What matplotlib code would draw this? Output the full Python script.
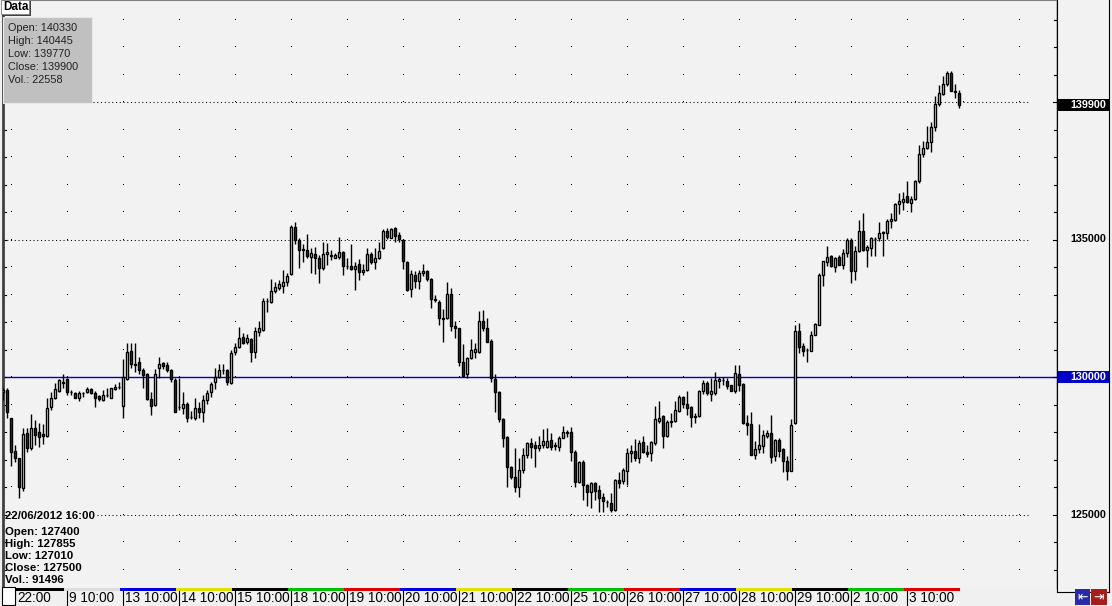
import matplotlib.pyplot as plt
from matplotlib.patches import Rectangle
import numpy as np

plt.rcParams['font.family'] = ['Liberation Sans', 'DejaVu Sans']

# 30-minute candles
opens = [129450, 129520, 128500, 127310, 127040, 125980, 127950, 127410, 128130, 127990,
         127920, 127870, 128920, 129250, 129490, 129800, 129930, 129470, 129410, 129250,
         129410, 129470, 129560, 129410, 129310, 129160, 129340, 129250, 129560, 129640,
         128960, 129930, 130950, 130460, 130530, 130250, 130100, 129200, 128980, 130320,
         130500, 130440, 130250, 129890, 128920, 128880, 129010, 128560, 128520, 128880,
         128720, 129160, 129440, 129810, 130010, 130260, 130250, 129770, 130900, 131090,
         131440, 131260, 131370, 130920, 131650, 131710, 132760, 132740, 133130, 133220,
         133320, 133440, 133730, 135470, 134980, 134640, 134620, 134380, 134460, 134310,
         133980, 134460, 134410, 134340, 134380, 134530, 134050, 134050, 133910, 134100,
         133810, 133890, 134460, 134170, 134340, 134680, 135310, 135070, 135410, 135160,
         134980, 134190, 133200, 133710, 133490, 133770, 133850, 133560, 132840, 132710,
         132130, 132130, 133010, 131870, 131770, 130530, 130100, 130680, 130920, 130920,
         132040, 131790, 131310, 129930, 129440, 128470, 127820, 126740, 126380, 126010,
         126620, 127160, 127590, 127510, 127410, 127530, 127470, 127710, 127510, 127470,
         127790, 127990, 127990, 127290, 126190, 126920, 126070, 125830, 126130, 125890,
         125650, 125470, 125410, 125170, 126250, 126220, 126580, 127220, 127310, 127070,
         127630, 127260, 127240, 127590, 128410, 128570, 127840, 128390, 128390, 128750,
         129260, 129020, 128900, 128570, 128570, 129500, 129780, 129380, 129420, 129870,
         129900, 129870, 129700, 129500, 130110, 129750, 128330, 128290, 127150, 127390,
         127480, 127840, 127960, 127110, 127720, 127390, 126960, 126590, 128330, 131680,
         131110, 130990, 130960, 131540, 131900, 133700, 134180, 134390, 133990, 134350,
         134080, 134510, 134990, 133840, 134570, 135320, 134630, 134690, 135030, 135050,
         135260, 135240, 135690, 135720, 136290, 136360, 136570, 136330, 136480, 137110,
         138110, 138330, 138540, 139080, 139930, 140290, 140650, 141050, 140390, 140330]
highs = [129600, 129590, 128520, 127530, 127060, 128130, 128130, 128640, 128440, 128320,
         128280, 129250, 129470, 129770, 129930, 130100, 129950, 129530, 129470, 129490,
         129470, 129650, 129610, 129490, 129350, 129530, 129590, 129610, 129730, 129830,
         130650, 131250, 131250, 131250, 130740, 130320, 130130, 129470, 130290, 130740,
         130560, 130560, 130290, 129950, 129950, 129440, 129100, 128760, 129250, 129100,
         129350, 129530, 129810, 130320, 130460, 130460, 130290, 130980, 131220, 131830,
         131590, 131560, 131410, 131830, 132040, 132860, 132880, 133560, 133470, 133530,
         133890, 133770, 135530, 135620, 135040, 134820, 135190, 134700, 134740, 134440,
         134920, 134880, 134620, 134500, 135100, 134580, 134340, 134820, 134190, 134290,
         134100, 134680, 134530, 134700, 134900, 135380, 135430, 135410, 135470, 135260,
         135020, 134220, 133890, 133850, 133890, 134100, 133890, 133590, 132980, 132800,
         132470, 133440, 133250, 132040, 131790, 131190, 130740, 131380, 131220, 132400,
         132440, 132160, 131380, 130100, 129490, 128500, 127870, 126780, 127410, 127070,
         127410, 127650, 127770, 127670, 127870, 128110, 128130, 127950, 127650, 127870,
         128230, 128070, 128190, 127350, 126950, 126980, 126100, 126190, 126190, 126070,
         125770, 125530, 125770, 126290, 126530, 126680, 127410, 127530, 127750, 127710,
         127870, 127530, 127690, 128930, 129140, 128630, 128450, 128690, 129120, 129360,
         129300, 129480, 128930, 128690, 129540, 129900, 129840, 129960, 130180, 129990,
         129990, 129960, 129720, 130420, 130450, 129780, 128630, 128730, 127660, 128290,
         128090, 128090, 128610, 127760, 127780, 127420, 127120, 128490, 131900, 131960,
         131240, 131050, 131660, 131960, 133780, 134230, 134750, 134420, 134350, 134450,
         134670, 135050, 135050, 134750, 135720, 135960, 134810, 135080, 135080, 135640,
         135300, 135760, 135960, 136330, 136690, 136730, 137110, 136570, 137180, 138450,
         138590, 139110, 139270, 140210, 140630, 140930, 141110, 141140, 140650, 140445]
lows = [129150, 128520, 126780, 126920, 125610, 125850, 127290, 127350, 127530, 127470,
        127550, 127830, 128800, 129200, 129470, 129590, 129350, 129350, 129220, 129130,
        129280, 129410, 129370, 128920, 129130, 129130, 129290, 129220, 129530, 129560,
        128520, 129890, 130320, 130190, 130100, 129590, 129160, 128620, 128960, 129950,
        130290, 130190, 129830, 128740, 128800, 128640, 128350, 128470, 128440, 128520,
        128380, 129010, 129280, 129560, 129950, 130100, 129710, 129730, 130800, 131070,
        131190, 131190, 130560, 130700, 131500, 131670, 132380, 132680, 133040, 133160,
        133040, 133320, 133710, 134820, 133950, 134190, 134310, 133770, 133730, 133410,
        133890, 134070, 134250, 134310, 134290, 133710, 133930, 133890, 133160, 133530,
        133710, 133850, 134100, 133930, 134290, 134650, 135020, 135040, 134920, 134920,
        133930, 133130, 132920, 133220, 133200, 133680, 133490, 132520, 132710, 131890,
        131280, 132110, 131670, 131410, 130410, 130050, 129950, 130650, 130680, 130860,
        131670, 131260, 129830, 128720, 128350, 127470, 126010, 126290, 125810, 125650,
        126500, 127070, 127040, 126740, 127310, 127410, 127410, 127350, 127350, 127310,
        127770, 127830, 126950, 126010, 126130, 125530, 125320, 125250, 125530, 125100,
        125100, 125280, 125100, 125130, 125980, 126100, 126070, 126920, 126950, 126860,
        127220, 127100, 126960, 127540, 128330, 127420, 127810, 128190, 128360, 128730,
        128870, 128610, 128170, 128330, 128530, 129380, 129330, 129120, 129360, 129600,
        129700, 129580, 129480, 129420, 129500, 128290, 127880, 127150, 127030, 127240,
        127240, 127780, 126870, 126930, 127080, 126550, 126270, 126570, 128290, 130870,
        130750, 130550, 130930, 131510, 131880, 133300, 134020, 133990, 133820, 134060,
        133940, 134350, 133420, 133540, 134550, 134570, 133990, 134390, 134390, 134960,
        134390, 135030, 135420, 135680, 135940, 136080, 136330, 136000, 136450, 137050,
        137990, 138290, 138200, 138930, 139840, 140240, 140600, 140390, 140140, 139770]
closes = [129520, 128720, 127290, 127070, 126010, 127920, 127410, 128130, 127890, 127830,
          127870, 128860, 129250, 129560, 129890, 129820, 129440, 129460, 129250, 129430,
          129420, 129560, 129410, 129250, 129190, 129350, 129350, 129590, 129650, 129650,
          130010, 130920, 130460, 130450, 130250, 130070, 129200, 128960, 130100, 130460,
          130410, 130250, 129930, 128740, 128910, 129010, 128520, 128550, 128880, 128720,
          129160, 129410, 129730, 130010, 130250, 130250, 129810, 130860, 131100, 131430,
          131250, 131410, 130920, 131670, 131770, 132760, 132780, 133130, 133280, 133380,
          133470, 133680, 135470, 134980, 134620, 134630, 134410, 134500, 134310, 133980,
          134460, 134530, 134430, 134440, 134530, 134050, 134040, 133930, 134050, 133810,
          133890, 134460, 134170, 134340, 134580, 135310, 135100, 135380, 135140, 135020,
          134220, 133160, 133730, 133490, 133770, 133850, 133560, 132840, 132790, 132130,
          132120, 133010, 131870, 131770, 130530, 130050, 130680, 130980, 131020, 132040,
          131770, 131280, 129980, 129440, 128470, 127790, 126740, 126380, 126010, 126620,
          127160, 127590, 127470, 127410, 127530, 127670, 127670, 127470, 127500, 127790,
          127990, 127980, 127290, 126190, 126900, 126070, 125830, 126130, 125860, 125610,
          125490, 125460, 125170, 126250, 126130, 126620, 127220, 127310, 127070, 127590,
          127260, 127190, 127640, 128490, 128510, 127840, 128360, 128380, 128810, 129280,
          129020, 128870, 128530, 128560, 129500, 129780, 129420, 129500, 129900, 129940,
          129890, 129660, 129500, 130150, 129700, 128330, 128240, 127180, 127390, 127520,
          127880, 127960, 127080, 127720, 127320, 126930, 126590, 128270, 131680, 131080,
          130960, 130980, 131520, 131930, 133720, 134210, 134350, 134020, 134330, 134080,
          134510, 134990, 133840, 134570, 135320, 134630, 134710, 135050, 135020, 135240,
          135240, 135680, 135760, 136290, 136390, 136480, 136360, 136480, 137140, 138110,
          138330, 138540, 139080, 139930, 140330, 140650, 141050, 140410, 140380, 139900]

last_vol = 22558
hover_time = "22/06/2012 16:00"
hover_ohlcv = [127400, 127855, 127010, 127500, 91496]

tick_idx = [3, 16, 30, 44, 58, 72, 86, 100, 114, 128, 142, 156, 170, 184, 198, 212, 226]
tick_labels = ["22:00", "9 10:00", "13 10:00", "14 10:00", "15 10:00", "18 10:00",
               "19 10:00", "20 10:00", "21 10:00", "22 10:00", "25 10:00", "26 10:00",
               "27 10:00", "28 10:00", "29 10:00", "2 10:00", "3 10:00"]
day_colors = ["#000000", "#dcdcdc", "#0000e0", "#e0e000", "#000000", "#00c000", "#e00000",
              "#0000e0", "#e0e000", "#000000", "#00c000", "#e00000", "#0000e0", "#e0e000",
              "#000000", "#00c000", "#e00000"]
price_labels = [125000, 130000, 135000, 140000]
ref_level = 130000

W, H = 1112, 606
BG = '#f2f2f2'


def px_box(x0, y0, x1, y1):
    return [x0 / W, 1 - y1 / H, (x1 - x0) / W, (y1 - y0) / H]


fig = plt.figure(figsize=(W / 100, H / 100), dpi=100)
fig.patch.set_facecolor('#f0f0f0')

ppx = 5000 / 137.5  # price per pixel
ylo, yhi = ref_level - 211 * ppx, ref_level + 377 * ppx
xlo = -0.075
xhi = xlo + 1054 / 4

ax = fig.add_axes(px_box(3, 0, 1057, 588))
ax.set_facecolor(BG)
ax.set_xlim(xlo, xhi)
ax.set_ylim(ylo, yhi)
ax.set_xticks([])
ax.set_yticks([])
ax.spines['bottom'].set_visible(False)
ax.spines['left'].set_color('#404040')
ax.spines['left'].set_linewidth(2)
ax.spines['top'].set_color('#808080')
ax.spines['right'].set_color('black')
ax.spines['right'].set_linewidth(1)

# dot grid
cols = np.arange(2, 260, 14)
rows = np.arange(123000, 144000, 1000)
gx, gy = np.meshgrid(cols, rows)
ax.plot(gx.ravel(), gy.ravel(), ',', color='black')

# dotted major lines
yt = ax.get_yaxis_transform()
dots = dict(color='black', lw=0.75, linestyle=(0, (1, 2.6)))
ax.plot([0, 0.9725], [135000, 135000], transform=yt, **dots)
ax.plot([0.0854, 0.9725], [140000, 140000], transform=yt, **dots)
ax.plot([0.089, 0.9725], [125000, 125000], transform=yt, **dots)
ax.axhline(ref_level, color='#0000c8', lw=1)

# axis ticks (left small, right)
for v in rows:
    ax.plot([0, 0.003], [v, v], transform=yt, color='black', lw=0.8)
    ln = 0.0038 if v % 5000 == 0 else 0.0029
    ax.plot([1 - ln, 1], [v, v], transform=yt, color='black', lw=0.8)

# candles
o = np.array(opens)
c = np.array(closes)
x = np.arange(len(o))
ax.vlines(x, lows, highs, color='black', lw=1.0, zorder=3)
up = c >= o
bot = np.minimum(o, c)
hgt = np.maximum(np.abs(c - o), 8)
ax.bar(x, hgt, width=0.55, bottom=bot, color=np.where(up, 'white', '#3c3c3c'),
       edgecolor='black', linewidth=1.0, zorder=4)

# right price panel
ar = fig.add_axes(px_box(1057, 0, 1109, 592))
ar.set_facecolor(BG)
ar.set_xlim(0, 52)
ar.set_ylim(ylo - 4 * ppx, yhi)
ar.set_xticks([])
ar.set_yticks([])
for s in ar.spines.values():
    s.set_color('black')
ar.spines['top'].set_visible(False)
last = closes[-1]
boxes = {last: ('black', 'white'), ref_level: ('#0000c8', 'white')}
for v in price_labels:
    if abs(v - last) < 300 and v != last:
        continue
    if v not in boxes:
        ar.text(49, v, str(v), ha='right', va='center', fontsize=7.8, fontweight='bold')
for v, (fc, tc) in boxes.items():
    ar.add_patch(Rectangle((0, v - 6 * ppx), 52, 12 * ppx, facecolor=fc, edgecolor='none'))
    ar.text(49, v, str(v), ha='right', va='center', fontsize=7.8, fontweight='bold', color=tc)

# time strip
ab = fig.add_axes(px_box(3, 588, 1057, 606))
ab.set_xlim(xlo, xhi)
ab.set_ylim(18, 0)
ab.axis('off')
starts = [xlo] + [t - 0.8 for t in tick_idx[1:]]
ends = starts[1:] + [len(o) - 0.8]
for s0, s1, col in zip(starts, ends, day_colors):
    ab.add_patch(Rectangle((s0, 0), s1 - s0, 3, facecolor=col, edgecolor='none', zorder=2))
for t, lab in zip(tick_idx, tick_labels):
    ab.plot([t, t], [3, 17], color='black', lw=0.8)
    ab.text(t + 0.4, 10.5, lab, ha='left', va='center', fontsize=9.8)

# overlay elements
ov = fig.add_axes([0, 0, 1, 1])
ov.set_xlim(0, W)
ov.set_ylim(H, 0)
ov.axis('off')

ov.add_patch(Rectangle((2, 1), 29, 15, facecolor='#404040', edgecolor='none'))
ov.add_patch(Rectangle((1, 0), 28, 14, facecolor='white', edgecolor='#808080', lw=0.6))
ov.text(3, 7.5, "Data", fontsize=8.5, fontweight='bold', va='center')

ov.add_patch(Rectangle((3, 17), 89, 86, facecolor='#c0c0c0', edgecolor='#e8e8e8', lw=0.8))
info = ["Open: %d" % opens[-1], "High: %d" % highs[-1], "Low: %d" % lows[-1],
        "Close: %d" % closes[-1], "Vol.: %d" % last_vol]
for i, s in enumerate(info):
    ov.text(8, 28 + 13.1 * i, s, fontsize=7.8, va='center', color='#202020')

hov = [hover_time] + ["%s: %d" % (n, v) for n, v in
                      zip(["Open", "High", "Low", "Close", "Vol."], hover_ohlcv)]
for i, s in enumerate(hov):
    yy = 516 if i == 0 else 532 + 12 * (i - 1)
    ov.text(5, yy, s, fontsize=8.2, fontweight='bold', va='center')

# scroll thumb and nav buttons
ov.add_patch(Rectangle((2, 587), 13, 18, facecolor='white', edgecolor='black', lw=0.8))
ov.add_patch(Rectangle((1075, 589), 15, 16, facecolor='#2a2aa8', edgecolor='none'))
ov.add_patch(Rectangle((1091, 589), 16, 16, facecolor='#a81c1c', edgecolor='none'))
ov.text(1082.5, 597, "\u21e4", color='white', fontsize=9, ha='center', va='center',
        family='DejaVu Sans')
ov.text(1099, 597, "\u21e5", color='white', fontsize=9, ha='center', va='center',
        family='DejaVu Sans')

fig.savefig('out.png', dpi=100, facecolor=fig.get_facecolor())
